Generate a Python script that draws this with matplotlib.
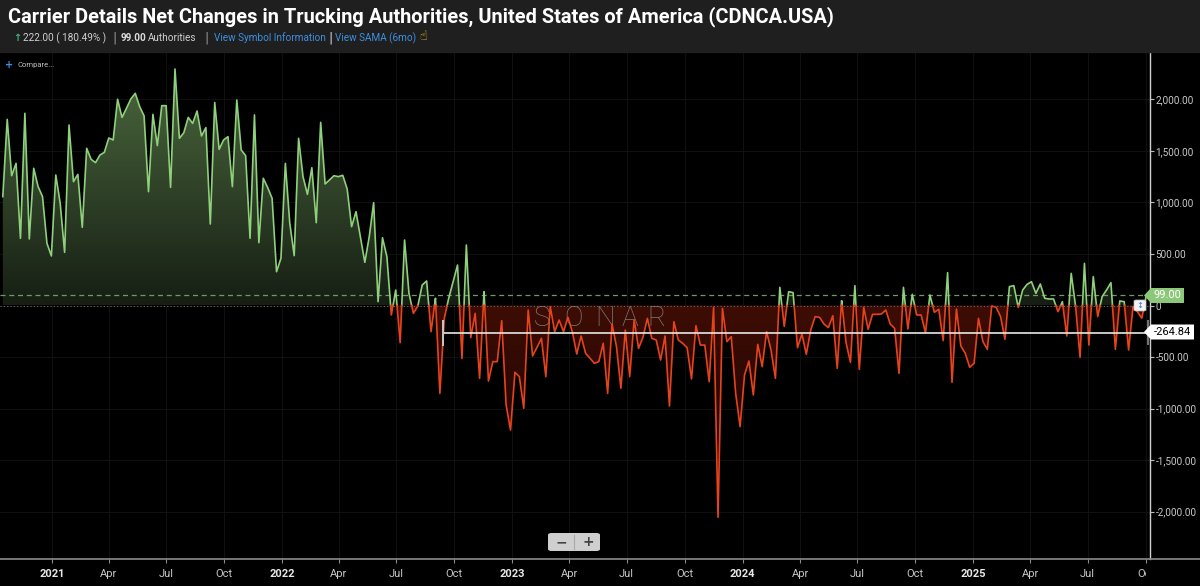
import numpy as np
import pandas as pd
import matplotlib
matplotlib.use('Agg')
import matplotlib.pyplot as plt
import matplotlib.dates as mdates
from matplotlib.patches import Rectangle, Polygon, FancyBboxPatch, PathPatch, Circle
from matplotlib.path import Path
from matplotlib.lines import Line2D
from matplotlib.transforms import Bbox

W, H = 1200, 586

# weekly net change in trucking authorities
start_date = '2020-10-15'
net_changes = [
    1057, 1807, 1260, 1380, 652, 1866, 646, 1332, 1154, 1057,
    604, 481, 1267, 992, 516, 1752, 1202, 1273, 759, 1526,
    1419, 1387, 1461, 1487, 1626, 1607, 2002, 1826, 1914, 2005,
    2060, 1931, 1840, 1105, 1856, 1552, 1940, 1940, 1147, 2296,
    1623, 1678, 1826, 1768, 1888, 1646,
    1727, 791, 1970, 1516, 1607, 1639, 1154, 1995, 1510, 1455,
    652, 1850, 610, 1235, 1144, 1040, 328, 458, 1380, 798,
    484, 1623, 1251, 1079, 1338, 804, 1778, 1180, 1219, 1260,
    1251, 1264, 1131, 765, 911, 668, 419, 668, 998, 37,
    658, 474, -92, 150,
    -361, 636, 118, -76, -5, 199, 238, -254, 70, -853,
    -125, 70, 231, 393, -515, 587, -312, -76, -707, 134,
    -733, -545, -545, -147, -966, -1209, -649, -691, -998, -44,
    -490, -406, -319, -691, -11, -254, -141, -254, -115, -254,
    -471, -296, -464, -513, -561, -545, -367, -853, -180, -400,
    -804, -238, -691, -141, -416, -309, -125, -319, -335, -529,
    -296, -976, -157, -335, -367, -409, -713, -196, -384, -384,
    -740, -18, -2056, -28, -351, -303, -853, -1176, -675, -539,
    -869, -377, -594, -254, -432, -707,
    176, -204, 134, 125, -409, -277, -474, -238, -108, -115,
    -180, -215, -99, -610, 47, -361, -552, 193, -620, -18,
    -231, -86, -86, -83, -44, -180, -222, -659, 176, -228,
    108, -92, -92, -264, 102, -66, -37, -341, 319, -746,
    -34, -393,
    -464, -600, -561, -125, -351, -425, -5, -18, -108, -328,
    183, 193, -18, 150, 205, 231, 118, 209, 70, 63,
    63, -60, 37, -296, 312, -11, -503, 409, -384, 280,
    -108, 86, 150, 222, -425, 44, 37, -432, -11, -60,
    -123, 99,
]
last_value = 99.00
change = 222.00
change_pct = 180.49
sama_value = -264.84
sama_start = '2022-09-13'

title = 'Carrier Details Net Changes in Trucking Authorities, United States of America (CDNCA.USA)'
y_ticks = [-2000, -1500, -1000, -500, 0, 500, 1000, 1500, 2000]
tick_dates = pd.date_range('2021-01-01', '2025-10-01', freq='QS')

dates = pd.date_range(start_date, periods=len(net_changes), freq='7D')
xv = mdates.date2num(dates)
yv = np.array(net_changes, dtype=float)

GREEN = '#8fd07c'
RED = '#e6431d'
AX_RIGHT = 1150


def fx(px):
    return px / W


def fy(py):
    return 1 - py / H


# insert zero crossings so the colour switch happens on the zero line
xs, ys = [xv[0]], [yv[0]]
for i in range(1, len(xv)):
    a, b = yv[i - 1], yv[i]
    if a * b < 0:
        t = a / (a - b)
        xs.append(xv[i - 1] + t * (xv[i] - xv[i - 1]))
        ys.append(0.0)
    xs.append(xv[i])
    ys.append(b)
xs = np.array(xs)
ys = np.array(ys)
pos = np.where(ys >= 0, ys, np.nan)
neg = np.where(ys <= 0, ys, np.nan)

fig = plt.figure(figsize=(12, 5.86), dpi=100, facecolor='black')

# header band
fig.patches.append(Rectangle((0, fy(52)), 1, 52 / H, transform=fig.transFigure,
                             color='#1f1f1f', zorder=0))

ax = fig.add_axes([0, fy(559), fx(AX_RIGHT), (559 - 52) / H])
ax.set_facecolor('black')
ax.set_axisbelow(True)

px_per_day = 0.6307
x0 = mdates.date2num(pd.Timestamp('2021-01-01')) - 52 / px_per_day
x1 = x0 + AX_RIGHT / px_per_day
ax.set_xlim(x0, x1)
ax.set_ylim(-2461, 2461)


def gradient_fill(vals, top_rgb, bot_rgb, y_top, y_bot):
    verts = [(xs[0], 0)] + list(zip(xs, vals)) + [(xs[-1], 0), (xs[0], 0)]
    codes = [Path.MOVETO] + [Path.LINETO] * (len(verts) - 2) + [Path.CLOSEPOLY]
    patch = PathPatch(Path(verts, codes), facecolor='none', edgecolor='none')
    ax.add_patch(patch)
    n = 256
    f = np.linspace(0, 1, n)[:, None]
    top = np.array(top_rgb) / 255
    bot = np.array(bot_rgb) / 255
    img = (1 - f) * top + f * bot
    img = np.repeat(img[:, None, :], 2, axis=1)
    im = ax.imshow(img, extent=[x0, x1, y_bot, y_top], aspect='auto',
                   origin='upper', interpolation='bilinear', zorder=1)
    im.set_clip_path(patch)


gradient_fill(np.maximum(ys, 0), (76, 106, 62), (22, 30, 20), 2350, 0)
gradient_fill(np.minimum(ys, 0), (62, 13, 4), (12, 2, 0), 0, -2150)

ax.plot(xs, pos, color=GREEN, lw=1.2, zorder=3, solid_joinstyle='round')
ax.plot(xs, neg, color=RED, lw=1.2, zorder=3, solid_joinstyle='round')

ax.axhline(0, color='#6a6a6a', lw=0.8, ls=(0, (1, 2)), zorder=2)
ax.axhline(last_value, color='#6f9a60', lw=0.9, ls=(0, (4, 3)), zorder=2)

# SAMA (6mo) average line
s0 = mdates.date2num(pd.Timestamp(sama_start))
ax.hlines(sama_value, s0, x1, color='#e8e8e8', lw=1.2, zorder=4)
ax.vlines(s0, sama_value - 125, sama_value + 125, color='#c8c8c8', lw=1.4, zorder=4)
ax.vlines(x1 - 2.5, sama_value - 120, sama_value + 120, color='#777777', lw=1.4,
          zorder=4, clip_on=False)

# grid and ticks
ax.set_xticks(mdates.date2num(tick_dates))
labels = [str(d.year) if d.month == 1 else d.strftime('%b') for d in tick_dates]
ax.set_xticklabels(labels)
ax.set_yticks(y_ticks)
ax.set_yticklabels(['0' if v == 0 else f'{v:,.2f}' for v in y_ticks])
ax.yaxis.tick_right()
ax.grid(True, color='#101010', lw=0.8)
ax.tick_params(axis='x', length=3, width=0.8, color='#8a8a8a', pad=4, labelsize=8,
               labelcolor='#c8c8c8')
ax.tick_params(axis='y', length=3, width=0.8, color='#bbbbbb', pad=1, labelsize=7.2,
               labelcolor='#c8c8c8')
for lab in ax.get_xticklabels():
    lab.set_fontfamily(['Liberation Sans Narrow', 'Roboto', 'DejaVu Sans'])
    if lab.get_text().isdigit():
        lab.set_fontweight('bold')
        lab.set_color('#e8e8e8')
for lab in ax.get_yticklabels():
    lab.set_fontfamily(['Roboto', 'DejaVu Sans'])
for side in ['top', 'left']:
    ax.spines[side].set_visible(False)
ax.spines['right'].set_color('#cfcfcf')
ax.spines['right'].set_linewidth(1.0)
ax.spines['bottom'].set_color('#8a8a8a')
ax.spines['bottom'].set_linewidth(1.2)
fig.lines.append(Line2D([fx(AX_RIGHT), 1], [fy(559), fy(559)], transform=fig.transFigure,
                        color='#8a8a8a', lw=1.2))

# SONAR watermark, letters spread out like the logo
for letter, cx in zip('SONAR', [542, 573, 605, 630, 656]):
    ax.text(fx(cx), fy(318), letter, transform=fig.transFigure, ha='center',
            va='center', fontsize=20, color='#8c8c8c', alpha=0.85, zorder=2.5,
            fontfamily=['Roboto', 'DejaVu Sans'], fontweight='light')


# value tags on the right axis
def tag(y_px, x_end, text, face, tcolor):
    pts = [(1144, y_px), (1151, y_px - 7.5), (x_end, y_px - 7.5),
           (x_end, y_px + 7.5), (1151, y_px + 7.5)]
    pts = [(fx(a), fy(b)) for a, b in pts]
    fig.patches.append(Polygon(pts, closed=True, transform=fig.transFigure,
                               facecolor=face, edgecolor='none', zorder=6))
    fig.text(fx((1151 + x_end) / 2), fy(y_px), text, ha='center', va='center',
             fontsize=8, color=tcolor, zorder=7, fontfamily=['Roboto', 'DejaVu Sans'])


tag(295.5, 1184, f'{last_value:.2f}', '#8dc87a', 'white')
tag(332, 1194, f'{sama_value:.2f}', 'white', 'black')

fig.patches.append(FancyBboxPatch((fx(1134), fy(311)), fx(12), 11 / H,
                                  boxstyle='round,pad=0,rounding_size=0.002',
                                  transform=fig.transFigure, facecolor='#f2f2f2',
                                  edgecolor='#bbbbbb', lw=0.5, zorder=6))
fig.text(fx(1140), fy(305.5), '\u2195', ha='center', va='center', fontsize=6,
         color='#3a78c8', zorder=7)

# zoom buttons
fig.patches.append(FancyBboxPatch((fx(548), fy(551)), fx(52), 18 / H,
                                  boxstyle='round,pad=0,rounding_size=0.003',
                                  transform=fig.transFigure, facecolor='#cfcfcf',
                                  edgecolor='none', zorder=6))
fig.lines.append(Line2D([fx(574), fx(574)], [fy(549), fy(535)], transform=fig.transFigure,
                        color='#a8a8a8', lw=0.8, zorder=7))
fig.text(fx(561), fy(542), '\u2212', ha='center', va='center', fontsize=10,
         color='#444444', weight='bold', zorder=7)
fig.text(fx(588), fy(542), '+', ha='center', va='center', fontsize=10,
         color='#444444', weight='bold', zorder=7)

# corner widget
fig.patches.append(Circle((fx(1206), fy(594)), 14 / W, transform=fig.transFigure,
                          facecolor='#2f7fd6', edgecolor='none', zorder=6))

# compare link
fig.text(fx(9), fy(65), '+', ha='center', va='center', fontsize=7, color='#3d8fe0',
         weight='bold', zorder=7)
fig.text(fx(17), fy(65), 'Compare...', ha='left', va='center', fontsize=5.5,
         color='#bdbdbd', zorder=7, fontfamily=['Roboto', 'DejaVu Sans'])

# header texts
t = fig.text(fx(8), fy(17), title, ha='left', va='center', fontsize=14, color='white',
             weight='bold', fontfamily=['Roboto', 'DejaVu Sans'])
sub_font = ['Roboto', 'DejaVu Sans']
fig.text(fx(17), fy(38), '\u2191', ha='center', va='center', fontsize=7,
         color='#3fb27f', weight='bold')
fig.text(fx(23), fy(38), f'{change:.2f} ( {change_pct:.2f}% )', ha='left', va='center',
         fontsize=7.2, color='#cfcfcf', fontfamily=sub_font)
fig.text(fx(114), fy(38), '|', ha='center', va='center', fontsize=9, color='#9a9a9a')
fig.text(fx(121), fy(38), f'{last_value:.2f}', ha='left', va='center', fontsize=7.2,
         color='#dcdcdc', weight='bold', fontfamily=sub_font)
fig.text(fx(148), fy(38), 'Authorities', ha='left', va='center', fontsize=7.2,
         color='#cfcfcf', fontfamily=sub_font)
fig.text(fx(207), fy(38), '|', ha='center', va='center', fontsize=9, color='#9a9a9a')
fig.text(fx(214), fy(38), 'View Symbol Information', ha='left', va='center', fontsize=7.2,
         color='#3d8fe0', fontfamily=sub_font)
fig.text(fx(330), fy(38), '|', ha='center', va='center', fontsize=9, color='#dddddd')
fig.text(fx(335), fy(38), 'View SAMA (6mo)', ha='left', va='center', fontsize=7.2,
         color='#3d8fe0', fontfamily=sub_font)
fig.text(fx(423), fy(37), '\u261d', ha='center', va='center', fontsize=9,
         color='#e8c21a')

# fit the title to the reference width and clip the last month label at the axis
fig.canvas.draw()
bb = t.get_window_extent()
t.set_fontsize(14 * 828 / bb.width)
last_lab = ax.get_xticklabels()[-1]
last_lab.set_clip_box(Bbox.from_extents(0, 0, 1146, H))
last_lab.set_clip_on(True)

fig.savefig('out.png', dpi=100, facecolor='black')
